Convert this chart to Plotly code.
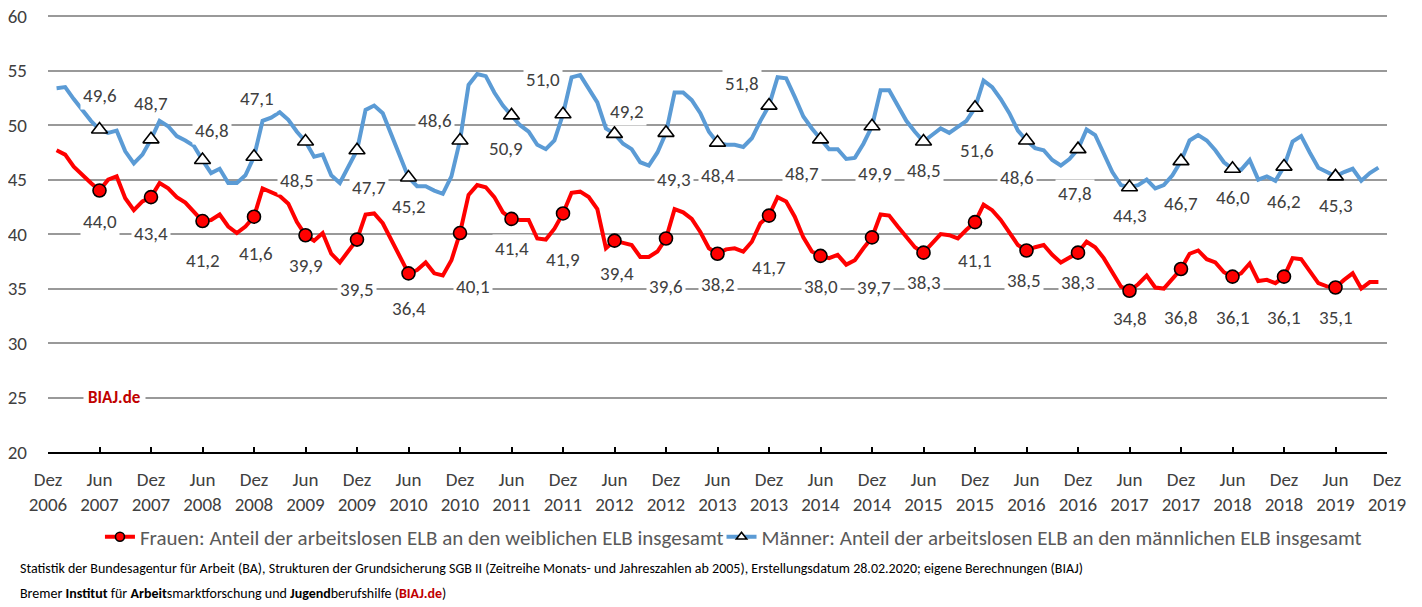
import plotly.graph_objects as go

# ---------------- data ----------------
MONTH_NAMES = ["Jan", "Feb", "Mär", "Apr", "Mai", "Jun", "Jul", "Aug", "Sep", "Okt", "Nov", "Dez"]
# categories: Dez 2006 ... Dez 2019 (157 months)
categories = ["Dez 2006"] + [f"{MONTH_NAMES[i % 12]} {2007 + i // 12}" for i in range(156)]

# monthly values Jan 2007 ... Nov 2019
frauen = [
    47.7, 47.3, 46.2, 45.4, 44.7, 44.0, 45.0, 45.3, 43.3, 42.2, 43.0, 43.4,
    44.7, 44.2, 43.4, 42.9, 42.0, 41.2, 41.3, 41.8, 40.7, 40.1, 40.7, 41.6,
    44.2, 43.8, 43.5, 42.8, 41.1, 39.9, 39.4, 40.1, 38.2, 37.4, 38.4, 39.5,
    41.8, 41.9, 41.0, 39.4, 37.8, 36.4, 36.7, 37.4, 36.4, 36.2, 37.6, 40.1,
    43.6, 44.5, 44.3, 43.4, 42.0, 41.4, 41.3, 41.3, 39.6, 39.5, 40.5, 41.9,
    43.8, 43.9, 43.4, 42.3, 38.7, 39.4, 39.2, 39.0, 37.9, 37.9, 38.4, 39.6,
    42.3, 42.0, 41.4, 40.2, 38.7, 38.2, 38.6, 38.7, 38.4, 39.3, 41.0, 41.7,
    43.4, 43.0, 41.6, 39.7, 38.4, 38.0, 37.8, 38.1, 37.2, 37.6, 38.7, 39.7,
    41.8, 41.7, 40.7, 39.7, 38.8, 38.3, 39.1, 40.0, 39.9, 39.6, 40.4, 41.1,
    42.7, 42.2, 41.3, 40.2, 39.0, 38.5, 38.8, 39.0, 38.1, 37.4, 37.9, 38.3,
    39.3, 38.8, 37.8, 36.5, 35.2, 34.8, 35.4, 36.2, 35.1, 35.0, 35.9, 36.8,
    38.2, 38.5, 37.7, 37.4, 36.5, 36.1, 36.4, 37.3, 35.7, 35.8, 35.5, 36.1,
    37.8, 37.7, 36.6, 35.5, 35.2, 35.1, 35.8, 36.4, 35.0, 35.6, 35.6,
]
maenner = [
    53.4, 53.5, 52.4, 51.4, 50.4, 49.6, 49.3, 49.5, 47.6, 46.5, 47.3, 48.7,
    50.4, 49.9, 49.0, 48.6, 48.1, 46.8, 45.6, 46.0, 44.7, 44.7, 45.4, 47.1,
    50.4, 50.7, 51.2, 50.5, 49.4, 48.5, 47.1, 47.3, 45.4, 44.7, 46.2, 47.7,
    51.4, 51.8, 51.1, 49.1, 47.1, 45.2, 44.4, 44.4, 44.0, 43.7, 45.3, 48.6,
    53.7, 54.7, 54.5, 53.0, 51.8, 50.9, 50.0, 49.4, 48.2, 47.8, 48.6, 51.0,
    54.4, 54.6, 53.4, 52.1, 49.7, 49.2, 48.3, 47.8, 46.6, 46.3, 47.5, 49.3,
    53.0, 53.0, 52.3, 51.1, 49.4, 48.4, 48.2, 48.2, 48.0, 48.8, 50.4, 51.8,
    54.4, 54.3, 52.6, 50.8, 49.7, 48.7, 47.8, 47.8, 46.9, 47.0, 48.3, 49.9,
    53.2, 53.2, 51.8, 50.4, 49.4, 48.5, 49.1, 49.7, 49.3, 49.9, 50.4, 51.6,
    54.1, 53.5, 52.4, 51.1, 49.5, 48.6, 47.9, 47.7, 46.8, 46.3, 46.9, 47.8,
    49.6, 49.1, 47.3, 45.7, 44.5, 44.3, 44.5, 45.0, 44.2, 44.5, 45.4, 46.7,
    48.6, 49.1, 48.6, 47.7, 46.6, 46.0, 45.9, 46.8, 45.0, 45.3, 44.9, 46.2,
    48.5, 49.0, 47.5, 46.1, 45.7, 45.3, 45.7, 46.0, 44.9, 45.6, 46.1,
]

name_frauen = "Frauen: Anteil der arbeitslosen ELB an den weiblichen ELB insgesamt"
name_maenner = "Männer: Anteil der arbeitslosen ELB an den männlichen ELB insgesamt"
ytick_vals = [20, 25, 30, 35, 40, 45, 50, 55, 60]

# ---------------- styles ----------------
RED = "#FF0000"
BLUE = "#5B9BD5"
FONT = "Carlito, 'Liberation Sans Narrow', 'Liberation Sans', Arial, sans-serif"
TXT = "#404040"
LBL = 19

# label offsets (dx, dy in px, screen down positive) for the 25 half-year markers
off_maenner = [(0, -34), (0, -36), (9, -30), (3, -58), (-9, 39), (12, 37), (0, 29), (-25, -20),
               (-6, 33), (-20, -35), (12, -22), (8, 47), (0, 33), (-27, -22), (-19, 34), (3, 47),
               (0, 29), (2, 43), (-10, 37), (-3, 44), (0, 28), (0, 42), (0, 29), (0, 35), (0, 29)]
off_frauen = [(0, 31), (0, 36), (0, 39), (2, 37), (0, 30), (0, 50), (0, 35), (13, 53),
              (0, 30), (0, 46), (2, 33), (0, 48), (0, 31), (0, 52), (0, 31), (2, 50),
              (0, 30), (0, 38), (-3, 30), (0, 30), (0, 28), (0, 49), (0, 41), (0, 41), (0, 30)]

# ---------------- build ----------------
x_data = list(range(1, len(frauen) + 1))
marker_idx = list(range(6, len(categories) - 1, 6))  # Jun 2007 ... Jun 2019

fig = go.Figure()

for vals, color, sym, fill, name, leg in [
    (frauen, RED, "circle", RED, name_frauen, "legend"),
    (maenner, BLUE, "triangle-up", "white", name_maenner, "legend2"),
]:
    fig.add_trace(go.Scatter(
        x=x_data, y=vals, mode="lines", line=dict(color=color, width=4),
        showlegend=False, hoverinfo="skip"))
    fig.add_trace(go.Scatter(
        x=marker_idx, y=[vals[i - 1] for i in marker_idx], mode="markers",
        marker=dict(symbol=sym, size=13 if sym == "circle" else 14, color=fill,
                    line=dict(color="black", width=1.6)),
        showlegend=False))
    # legend entry (line + marker)
    fig.add_trace(go.Scatter(
        x=[None], y=[None], mode="lines+markers", name=name, legend=leg,
        line=dict(color=color, width=4),
        marker=dict(symbol=sym, size=9, color=fill, line=dict(color="black", width=1.6))))

annotations = []
for vals, offs in [(maenner, off_maenner), (frauen, off_frauen)]:
    for i, (dx, dy) in zip(marker_idx, offs):
        v = vals[i - 1]
        annotations.append(dict(
            x=i, y=v, xref="x", yref="y", text=f"{v:.1f}".replace(".", ","),
            xanchor="center", yanchor="middle",
            showarrow=False, xshift=dx, yshift=-dy, bgcolor="white", borderpad=2,
            font=dict(family=FONT, size=LBL, color=TXT)))

annotations.append(dict(
    x=0.05, y=25, xref="paper", yref="y", text="<b>BIAJ.de</b>", showarrow=False,
    xanchor="center", yanchor="middle",
    bgcolor="white", borderpad=4, font=dict(family=FONT, size=17, color="#C00000")))

annotations.append(dict(
    x=-0.0224, y=-0.266, xref="paper", yref="paper", xanchor="left", yanchor="middle",
    showarrow=False, align="left",
    text="Statistik der Bundesagentur für Arbeit (BA), Strukturen der Grundsicherung SGB II "
         "(Zeitreihe Monats- und Jahreszahlen ab 2005), Erstellungsdatum 28.02.2020; "
         "eigene Berechnungen (BIAJ)",
    font=dict(family=FONT, size=14, color="black")))
annotations.append(dict(
    x=-0.0224, y=-0.323, xref="paper", yref="paper", xanchor="left", yanchor="middle",
    showarrow=False, align="left",
    text="Bremer <b>Institut</b> für <b>Arbeit</b>smarktforschung und <b>Jugend</b>berufshilfe "
         "(<b><span style='color:#C00000'>BIAJ.de</span></b>)",
    font=dict(family=FONT, size=14, color="black")))

tickvals = list(range(0, len(categories), 6))
ticktext = [categories[i].replace(" ", "<br>") for i in tickvals]

# the page body adds an 8 px margin, so the figure is 8 px smaller on each side
fig.update_layout(
    width=1414, height=599,
    margin=dict(l=40, r=35, t=5, b=155, autoexpand=False),
    paper_bgcolor="white", plot_bgcolor="white",
    font=dict(family=FONT, size=19, color=TXT),
    xaxis=dict(range=[0, len(categories) - 1], tickvals=tickvals, ticktext=ticktext,
               showgrid=False, zeroline=False, showline=True, linecolor="black", linewidth=2,
               ticks="inside", ticklen=5, tickwidth=1.5, tickcolor="black",
               ticklabelstandoff=9, automargin=False, ticklabeloverflow="allow",
               tickfont=dict(family=FONT, size=19, color=TXT)),
    yaxis=dict(range=[20, 60.3], tickvals=ytick_vals,
               showgrid=True, gridcolor="#999999", gridwidth=1.5,
               zeroline=False, showline=False, ticks="", ticklabelstandoff=20, automargin=False,
               ticklabeloverflow="allow",
               tickfont=dict(family=FONT, size=19, color=TXT)),
    legend=dict(orientation="h", x=0.0388, xanchor="left", y=-0.194, yanchor="middle",
                font=dict(family=FONT, size=21, color="#595959"), itemwidth=30,
                bgcolor="rgba(0,0,0,0)"),
    legend2=dict(orientation="h", x=0.503, xanchor="left", y=-0.194, yanchor="middle",
                 font=dict(family=FONT, size=21, color="#595959"), itemwidth=30,
                 bgcolor="rgba(0,0,0,0)"),
    annotations=annotations,
    showlegend=True,
)

fig.write_html("out.html")
